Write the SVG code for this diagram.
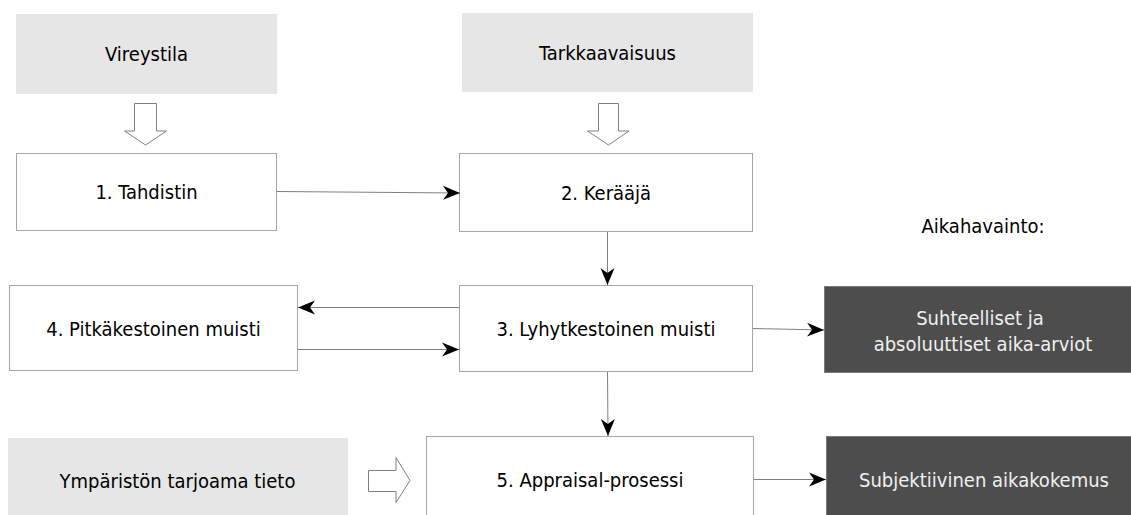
<svg xmlns="http://www.w3.org/2000/svg" width="1131" height="515" viewBox="0 0 1131 515">
<style>
text{font-family:"DejaVu Sans Condensed","DejaVu Sans","Verdana",sans-serif;font-stretch:condensed;font-size:20px;fill:#000;text-anchor:middle}
.gray{fill:#e6e6e6;stroke:none}
.box{fill:#fff;stroke:#a6a6a6;stroke-width:1}
.dark{fill:#4d4d4d;stroke:#7a7a7a;stroke-width:1}
.dark-t{fill:#f0f0f0}
.hollow{fill:#fff;stroke:#808080;stroke-width:1}
.conn{fill:none;stroke:#808080;stroke-width:1;marker-end:url(#ah)}
</style>
<defs>
<marker id="ah" markerUnits="userSpaceOnUse" markerWidth="20" markerHeight="18" refX="17" refY="8" orient="auto" viewBox="0 0 20 18">
<path d="M0,1 L17,8 L0,15 L5,8 z" fill="#000"/>
</marker>
</defs>
<rect width="1131" height="515" fill="#fff"/>
<g id="vireystila"><rect class="gray" x="16" y="14" width="261" height="80"/><text x="146.5" y="61">Vireystila</text></g>
<g id="tarkkaavaisuus"><rect class="gray" x="462" y="13" width="291" height="79"/><text x="607.5" y="60">Tarkkaavaisuus</text></g>
<g id="tahdistin"><rect class="box" x="16.5" y="153.5" width="260" height="77"/><text x="146.5" y="199">1. Tahdistin</text></g>
<g id="keraaja"><rect class="box" x="459.5" y="153.5" width="293" height="78"/><text x="606" y="200">2. Kerääjä</text></g>
<g id="aikahavainto"><text x="983" y="233">Aikahavainto:</text></g>
<g id="pitkakestoinen"><rect class="box" x="9.5" y="285.5" width="288" height="85"/><text x="153.5" y="336">4. Pitkäkestoinen muisti</text></g>
<g id="lyhytkestoinen"><rect class="box" x="459.5" y="285.5" width="293" height="86"/><text x="606" y="336">3. Lyhytkestoinen muisti</text></g>
<g id="arviot"><rect class="dark" x="824.5" y="286.5" width="310" height="86"/><text class="dark-t" x="980" y="325">Suhteelliset ja</text><text class="dark-t" x="983" y="351">absoluuttiset aika-arviot</text></g>
<g id="ymparisto"><rect class="gray" x="8" y="438" width="340" height="80"/><text x="177.5" y="488">Ympäristön tarjoama tieto</text></g>
<g id="appraisal"><rect class="box" x="426.5" y="436.5" width="327" height="85"/><text x="590" y="487">5. Appraisal-prosessi</text></g>
<g id="aikakokemus"><rect class="dark" x="826.5" y="436.5" width="310" height="85"/><text class="dark-t" x="984" y="487">Subjektiivinen aikakokemus</text></g>
<g id="hollow-arrows">
<path class="hollow" d="M134.5,103.5 L156.5,103.5 L156.5,131 L166.5,131 L145.5,145 L124.5,131 L134.5,131 z"/>
<path class="hollow" d="M598.5,103.5 L618.5,103.5 L618.5,131 L629,131 L608.5,145 L587.5,131 L598.5,131 z"/>
<path class="hollow" d="M368.5,470.5 L396,470.5 L396,457.5 L410,480.5 L396,502.5 L396,491.5 L368.5,491.5 z"/>
</g>
<g id="connectors">
<path class="conn" d="M277,191.5 L460,193"/>
<path class="conn" d="M607.5,232 L607.5,285"/>
<path class="conn" d="M459,307.5 L298,307.5"/>
<path class="conn" d="M298,349.5 L459,349.5"/>
<path class="conn" d="M753,328.5 L824,330"/>
<path class="conn" d="M607.5,372 L608,436"/>
<path class="conn" d="M754,479.5 L826,479.5"/>
</g>
</svg>
